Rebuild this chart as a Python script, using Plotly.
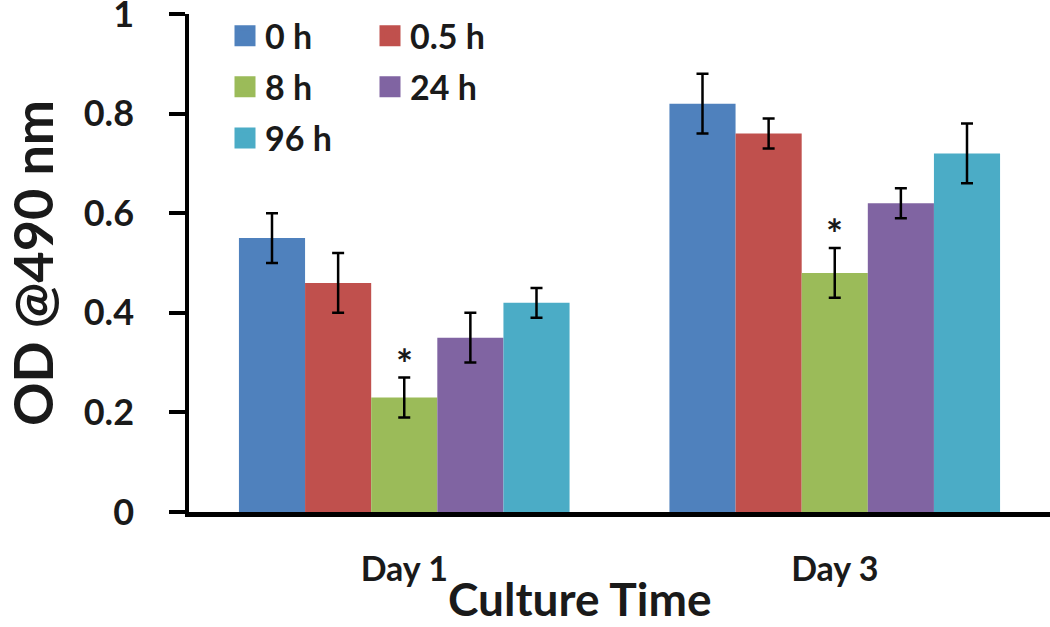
import plotly.graph_objects as go

categories = ["Day 1", "Day 3"]
series_names = ["0 h", "0.5 h", "8 h", "24 h", "96 h"]
series_colors = ["#4F81BD", "#C0504D", "#9BBB59", "#8064A2", "#4BACC6"]
values_0h = [0.55, 0.82]
values_05h = [0.46, 0.76]
values_8h = [0.23, 0.48]
values_24h = [0.35, 0.62]
values_96h = [0.42, 0.72]
err_0h = [0.05, 0.06]
err_05h = [0.06, 0.03]
err_8h = [0.04, 0.05]
err_24h = [0.05, 0.03]
err_96h = [0.03, 0.06]
significant_series = "8 h"
y_tick_values = [0, 0.2, 0.4, 0.6, 0.8, 1]

all_values = [values_0h, values_05h, values_8h, values_24h, values_96h]
all_errs = [err_0h, err_05h, err_8h, err_24h, err_96h]

FONT = "Lato, 'DejaVu Sans', sans-serif"
TXT = "#1a1a1a"

fig = go.Figure()
for name, color, vals, errs in zip(series_names, series_colors, all_values, all_errs):
    fig.add_trace(go.Bar(
        x=categories, y=vals, name=name,
        marker=dict(color=color, line=dict(width=0)),
        error_y=dict(type="data", array=errs, visible=True, color="black",
                     thickness=2.5, width=6),
        showlegend=False, legendgroup=name,
    ))

# legend entries (two columns)
col1 = ["0 h", "8 h", "96 h"]
for name, color in zip(series_names, series_colors):
    fig.add_trace(go.Scatter(
        x=[None], y=[None], mode="markers", name=name,
        marker=dict(symbol="square", size=16, color=color,
                    line=dict(color=color, width=6)),
        legendgroup=name, showlegend=True,
        legend="legend" if name in col1 else "legend2",
    ))

# significance asterisks
idx = series_names.index(significant_series)
for c, v, e in zip(categories, all_values[idx], all_errs[idx]):
    fig.add_annotation(x=c, y=v + e, text="*", showarrow=False,
                       yanchor="bottom", yshift=-12,
                       font=dict(family=FONT, size=40, color=TXT, weight=700))

fig.add_annotation(xref="paper", yref="paper", x=(580 - 189) / 861, y=-115 / 498,
                   xanchor="center", yanchor="bottom", text="Culture Time",
                   showarrow=False, borderpad=0,
                   font=dict(family=FONT, size=46, color=TXT, weight=700))

legend_common = dict(
    orientation="v", xanchor="left", yanchor="top",
    font=dict(family=FONT, size=34, color=TXT, weight=700),
    bgcolor="rgba(0,0,0,0)", tracegroupgap=4, itemclick=False,
)

fig.update_layout(
    width=1050, height=627,
    margin=dict(l=189, r=0, t=14, b=115),
    paper_bgcolor="white", plot_bgcolor="white",
    barmode="group", bargap=0.232, bargroupgap=0,
    showlegend=True,
    legend=dict(x=(225 - 189) / 861, y=1.014, **legend_common),
    legend2=dict(x=(370 - 189) / 861, y=1.014, **legend_common),
    xaxis=dict(
        type="category", automargin=False,
        showline=True, linewidth=5, linecolor="black",
        ticks="", showgrid=False, zeroline=False,
        tickfont=dict(family=FONT, size=34, color=TXT, weight=700),
        ticklabelstandoff=23,
    ),
    yaxis=dict(
        range=[0, 1], tickvals=y_tick_values, tickformat="~g",
        automargin=False, ticklabeloverflow="allow",
        showline=True, linewidth=3.5, linecolor="black",
        ticks="outside", ticklen=16, tickwidth=3.5, tickcolor="black",
        showgrid=False, zeroline=False,
        tickfont=dict(family=FONT, size=36, color=TXT, weight=700),
        ticklabelstandoff=28,
        title=dict(text="OD @490 nm", standoff=60,
                   font=dict(family=FONT, size=54, color=TXT, weight=700)),
    ),
)

fig.write_html("out.html", config={"displayModeBar": False},
               post_script="document.body.style.margin='0';")
